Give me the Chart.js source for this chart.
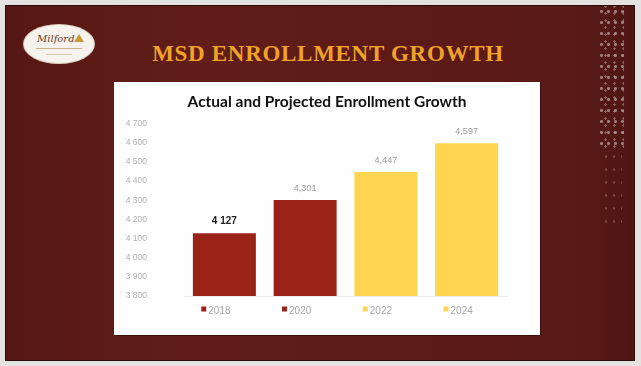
<!DOCTYPE html>
<html>
<head>
<meta charset="utf-8">
<script src="https://cdn.jsdelivr.net/npm/chart.js@4/dist/chart.umd.min.js"></script>
<style>
  html, body { margin:0; padding:0; }
  body { width:641px; height:366px; background:#e4e1e1; position:relative; overflow:hidden; font-family:"Liberation Sans", sans-serif; }
  #slide { position:absolute; left:5px; top:5px; width:630px; height:356px;
    background: linear-gradient(90deg, #561714 0%, #621d18 30%, #5d1a16 60%, #5a1a17 90%, #4e1613 100%);
    box-shadow: inset 0 0 0 1px #2b0c0a; }
  #band { position:absolute; left:598px; top:6px; width:26px; height:145px;
    background-image: radial-gradient(circle, rgba(245,240,235,0.8) 0 1.3px, transparent 1.6px),
                      radial-gradient(circle, rgba(230,225,220,0.6) 0 1.1px, transparent 1.4px);
    background-size: 7px 11px, 9px 7px; background-position: 0 0, 3px 4px; opacity:0.6; }
  #band2 { position:absolute; left:602px; top:150px; width:20px; height:80px;
    background-image: radial-gradient(circle, rgba(240,235,230,0.5) 0 1px, transparent 1.3px);
    background-size: 8px 13px; opacity:0.5; }
  #logo { position:absolute; left:24px; top:25px; width:70px; height:38px; border-radius:50%;
    background:#f6f3ee; box-shadow: 0 0 0 1px #d8cfc0; }
  #logo .m { font-family:"DejaVu Serif", serif; font-style:italic; font-size:10px; color:#6b3a1a; position:absolute; left:13px; top:8px; }
  #logo .tri { position:absolute; left:50px; top:9px; width:0; height:0; border-left:5px solid transparent; border-right:5px solid transparent; border-bottom:8px solid #c99a3a; }
  #logo .sub { position:absolute; left:12px; top:23px; width:46px; height:1px; background:#c9b48a; }
  #logo .sub2 { position:absolute; left:22px; top:29px; width:26px; height:1px; background:#d8cbb0; }
  #head { position:absolute; left:0; width:656px; top:41px; text-align:center; font-family:"Liberation Serif", serif; font-weight:bold; font-size:23px; letter-spacing:0.7px; color:#f0a32b; }
  #panel { position:absolute; left:114px; top:82px; width:426px; height:253px; background:#fefefe; box-shadow: 1px 1px 0 #3a100d; }
  #c { position:absolute; left:0; top:0; }
</style>
</head>
<body>
<div id="slide"></div>
<div id="band"></div>
<div id="band2"></div>
<div id="logo"><span class="m">Milford</span><span class="tri"></span><span class="sub"></span><span class="sub2"></span></div>
<div id="head">MSD ENROLLMENT GROWTH</div>
<div id="panel"><canvas id="c" width="426" height="253"></canvas></div>
<script>
const chartTitle = "Actual and Projected Enrollment Growth";
const years = ["2018", "2020", "2022", "2024"];
const enrollment = [4127, 4301, 4447, 4597];
const barColors = ["#9b2217", "#9b2217", "#ffd552", "#ffd552"];
const labelSeparators = [" ", ",", ",", ","];
const yMin = 3800, yMax = 4700, yStep = 100;

function fmtThousands(v, sep) {
  const s = String(Math.round(v));
  return s.length > 3 ? s.slice(0, s.length - 3) + sep + s.slice(-3) : s;
}

const valueLabels = {
  id: 'valueLabels',
  afterDatasetsDraw(chart) {
    const ctx = chart.ctx;
    const meta = chart.getDatasetMeta(0);
    ctx.save();
    ctx.textAlign = 'center';
    ctx.textBaseline = 'middle';
    meta.data.forEach((bar, i) => {
      if (i === 0) { ctx.font = 'bold 10px "Liberation Sans", sans-serif'; ctx.fillStyle = '#222'; }
      else { ctx.font = '9px "Liberation Sans", sans-serif'; ctx.fillStyle = '#9a9a9a'; }
      ctx.fillText(fmtThousands(enrollment[i], labelSeparators[i]), bar.x, bar.y - 12);
    });
    ctx.restore();
  }
};

const legendMarks = {
  id: 'legendMarks',
  afterDraw(chart) {
    const ctx = chart.ctx;
    const xs = chart.scales.x;
    ctx.save();
    ctx.font = '10px "Liberation Sans", sans-serif';
    years.forEach((y, i) => {
      const cx = xs.getPixelForTick(i) - 5;
      const w = ctx.measureText(y).width;
      ctx.fillStyle = barColors[i];
      ctx.fillRect(cx - w / 2 - 7, 224.5, 5, 5);
    });
    ctx.restore();
  }
};

new Chart(document.getElementById('c'), {
  type: 'bar',
  data: {
    labels: years,
    datasets: [{
      data: enrollment,
      backgroundColor: barColors,
      borderWidth: 0,
      categoryPercentage: 1,
      barPercentage: 0.78
    }]
  },
  options: {
    responsive: false,
    animation: false,
    layout: { padding: 0 },
    plugins: {
      legend: { display: false },
      tooltip: { enabled: false },
      title: {
        display: true,
        text: chartTitle,
        color: '#111',
        font: { family: 'Lato', size: 15.5, weight: 'bold' },
        padding: { top: 11, bottom: 12 }
      }
    },
    scales: {
      x: {
        grid: { display: false },
        border: { display: true, color: '#ececec' },
        ticks: { color: '#a8a8a8', font: { family: 'Liberation Sans', size: 10 }, padding: 1, labelOffset: -5 },
        afterFit(s) { s.height = 39; }
      },
      y: {
        min: yMin, max: yMax,
        grid: { display: false },
        border: { display: false },
        ticks: {
          stepSize: yStep,
          color: '#b0b0b0',
          font: { family: 'Liberation Sans', size: 8.5 },
          padding: 29,
          callback: v => fmtThousands(v, ' ')
        },
        afterFit(s) { s.width = 70; }
      },
      yRight: {
        position: 'right',
        display: true,
        min: yMin, max: yMax,
        grid: { display: false },
        border: { display: false },
        ticks: { display: false },
        afterFit(s) { s.width = 33; }
      }
    }
  },
  plugins: [valueLabels, legendMarks]
});
</script>
</body>
</html>
